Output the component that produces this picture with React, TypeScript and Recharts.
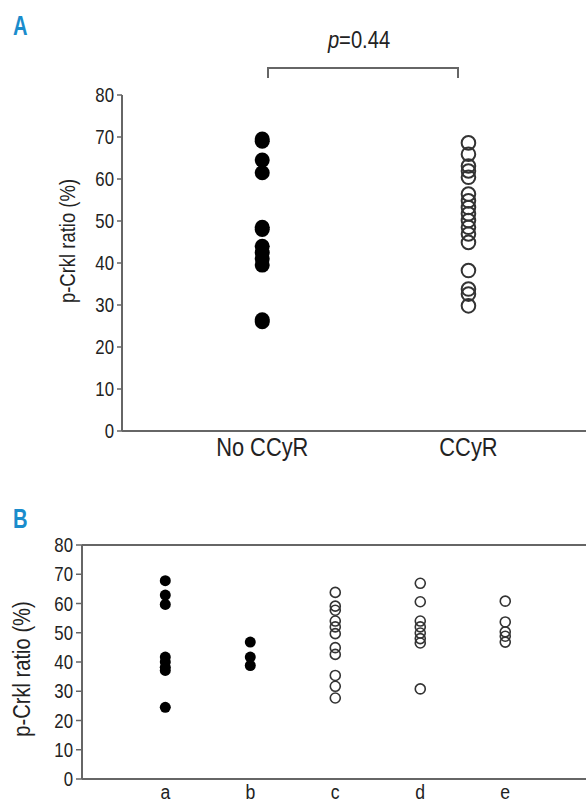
import React from 'react';
import { ScatterChart, Scatter, XAxis, YAxis, ReferenceLine } from 'recharts';

const FONT = "'Liberation Sans', Arial, sans-serif";
const SX = 0.84; // horizontal squeeze to mimic a condensed face
const AXIS = '#666';
const TEXT = '#222';

// Panel A
const groupsA = ['No CCyR', 'CCyR'];
const noCCyR = [69.5, 69, 64.5, 61.5, 48.5, 48, 44, 42.5, 41, 39.5, 26.5, 26];
const ccyr = [68.6, 65.9, 63.1, 61.9, 60.4, 56.4, 54.8, 53.2, 51.7, 50.1, 48.5, 46.9, 44.9, 38.2, 33.8, 32.6, 29.8];
const yTicks = [0, 10, 20, 30, 40, 50, 60, 70, 80];
const pLabel = '0.44';
const yTitle = 'p-Crkl ratio (%)';

// Panel B
const groupsB = ['a', 'b', 'c', 'd', 'e'];
const groupA = [67.8, 62.9, 59.7, 41.7, 40, 38.2, 37.1, 24.5];
const groupB = [46.8, 41.7, 38.8];
const groupC = [63.8, 59.1, 57.7, 54, 52, 49.7, 44.9, 42.6, 35.4, 31.7, 27.7];
const groupD = [66.9, 60.6, 54, 52, 49.9, 48, 46.5, 30.8];
const groupE = [60.8, 53.7, 50.3, 48.8, 46.8];

const toPts = (vals: number[], x: number) => vals.map((y) => ({ x, y }));

const dataA_filled = toPts(noCCyR, 1);
const dataA_open = toPts(ccyr, 2);
const dataB_filled = [...toPts(groupA, 1), ...toPts(groupB, 2)];
const dataB_open = [...toPts(groupC, 3), ...toPts(groupD, 4), ...toPts(groupE, 5)];

const filledShape = (r: number) => (p: any) => <circle cx={p.cx} cy={p.cy} r={r} fill="#000" />;
const openShape = (r: number, w: number) => (p: any) => (
  <circle cx={p.cx} cy={p.cy} r={r} fill="none" stroke="#333" strokeWidth={w} />
);

const NText = ({ x, y, size, anchor = 'middle', rotate = 0, bold = false, fill = TEXT, sx = SX, baseline = 'auto', children }: any) => (
  <g transform={`translate(${x},${y}) rotate(${rotate}) scale(${sx},1)`}>
    <text x={0} y={0} textAnchor={anchor} dominantBaseline={baseline} fontSize={size} fontFamily={FONT} fontWeight={bold ? 'bold' : 'normal'} fill={fill}>
      {children}
    </text>
  </g>
);

const yTick = (size: number) => (p: any) => (
  <NText x={p.x} y={p.y} size={size} anchor="end" baseline="central">
    {p.payload.value}
  </NText>
);

const xTick = (size: number, labels: string[], dy: number) => (p: any) => (
  <NText x={p.x} y={p.y + dy} size={size} anchor="middle">
    {labels[p.payload.value - 1]}
  </NText>
);

export default function App() {
  return (
    <div style={{ position: 'absolute', left: 0, top: 0, width: 586, height: 807, background: '#fff' }}>
      <div style={{ position: 'absolute', left: 0, top: 0 }}>
        <ScatterChart width={586} height={480} margin={{ top: 95, right: 0, left: 62, bottom: 9 }}>
          <XAxis
            type="number"
            dataKey="x"
            domain={[0.32, 2.57]}
            ticks={[1, 2]}
            height={40}
            tickLine={false}
            axisLine={{ stroke: AXIS, strokeWidth: 2 }}
            tick={xTick(26, groupsA, 17)}
            allowDataOverflow
          />
          <YAxis
            type="number"
            dataKey="y"
            domain={[0, 80]}
            ticks={yTicks}
            width={60}
            tickSize={5}
            tickMargin={3}
            axisLine={{ stroke: AXIS, strokeWidth: 2 }}
            tickLine={{ stroke: AXIS, strokeWidth: 1.5 }}
            tick={yTick(20)}
          />
          <Scatter data={dataA_filled} isAnimationActive={false} shape={filledShape(7.5)} />
          <Scatter data={dataA_open} isAnimationActive={false} shape={openShape(6.8, 2)} />
        </ScatterChart>
      </div>
      <div style={{ position: 'absolute', left: 0, top: 500 }}>
        <ScatterChart width={586} height={307} margin={{ top: 45, right: 0, left: 32, bottom: 1 }}>
          <XAxis
            type="number"
            dataKey="x"
            domain={[0.02, 5.95]}
            ticks={[1, 2, 3, 4, 5]}
            height={27}
            tickLine={false}
            axisLine={{ stroke: AXIS, strokeWidth: 2 }}
            tick={xTick(21, groupsB, 12)}
            allowDataOverflow
          />
          <YAxis
            type="number"
            dataKey="y"
            domain={[0, 80]}
            ticks={yTicks}
            width={50}
            tickSize={6}
            tickMargin={3}
            axisLine={{ stroke: AXIS, strokeWidth: 2 }}
            tickLine={{ stroke: AXIS, strokeWidth: 1.5 }}
            tick={yTick(20)}
          />
          <ReferenceLine y={80} stroke={AXIS} strokeWidth={2} />
          <Scatter data={dataB_filled} isAnimationActive={false} shape={filledShape(5.5)} />
          <Scatter data={dataB_open} isAnimationActive={false} shape={openShape(5, 1.6)} />
        </ScatterChart>
      </div>
      <svg width={586} height={807} style={{ position: 'absolute', left: 0, top: 0, pointerEvents: 'none' }}>
        <NText x={13} y={35} size={28} anchor="start" bold fill="#1a8ccc" sx={0.72}>A</NText>
        <NText x={13} y={528} size={28} anchor="start" bold fill="#1a8ccc" sx={0.72}>B</NText>
        <g transform="translate(359,48) scale(0.84,1)">
          <text x={0} y={0} textAnchor="middle" fill={TEXT} fontSize={24} fontFamily={FONT}>
            <tspan fontStyle="italic">p</tspan>={pLabel}
          </text>
        </g>
        <path d="M268,78 L268,68 L458,68 L458,78" fill="none" stroke={AXIS} strokeWidth={2} />
        <g transform="translate(67,241) rotate(-90)">
          <NText x={0} y={0} size={22} baseline="central" sx={0.84}>{yTitle}</NText>
        </g>
        <g transform="translate(22,669) rotate(-90)">
          <NText x={0} y={0} size={24} baseline="central" sx={0.84}>{yTitle}</NText>
        </g>
      </svg>
    </div>
  );
}
